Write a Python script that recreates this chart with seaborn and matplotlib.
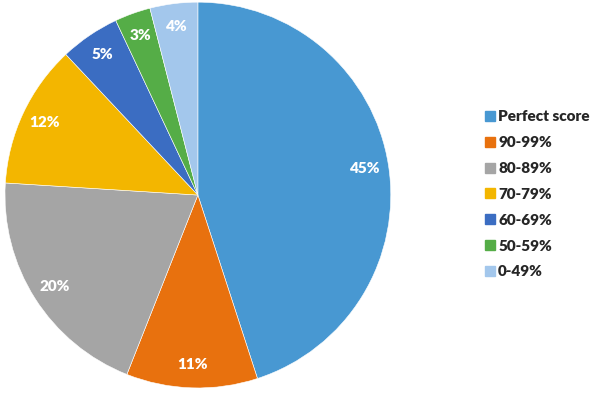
import seaborn as sns
import matplotlib.pyplot as plt
from matplotlib.lines import Line2D

# score bands and share of students
categories = ['Perfect score', '90-99%', '80-89%', '70-79%', '60-69%', '50-59%', '0-49%']
shares = [45, 11, 20, 12, 5, 3, 4]
colors = ['#4898d2', '#e8710e', '#a5a5a5', '#f3b600', '#3b6dc2', '#55ad47', '#a3c7ec']

sns.set_style('white')
plt.rcParams['font.family'] = ['Lato', 'DejaVu Sans']

fig = plt.figure(figsize=(6, 3.95), dpi=100)
ax = fig.add_axes([0.0083, 0.0177, 0.643, 0.977])

wedges, texts, autotexts = ax.pie(
    shares, colors=sns.color_palette(colors), startangle=90, counterclock=False,
    autopct='%d%%', pctdistance=0.88,
    wedgeprops=dict(linewidth=0.4, edgecolor='white'),
    textprops=dict(color='white', fontsize=11, fontweight='heavy'))
ax.set_xlim(-1.0, 1.0)
ax.set_ylim(-1.0, 1.0)
ax.set_aspect('equal')

handles = [Line2D([], [], marker='s', linestyle='', markersize=7,
                  markerfacecolor=c, markeredgecolor=c) for c in colors]
fig.legend(handles, categories, loc='center left', bbox_to_anchor=(0.783, 0.508),
           frameon=False, handletextpad=0.05, labelspacing=0.84, handlelength=0.9,
           prop=dict(family='Lato', weight='heavy', size=11))

fig.savefig('out.png', dpi=100)
